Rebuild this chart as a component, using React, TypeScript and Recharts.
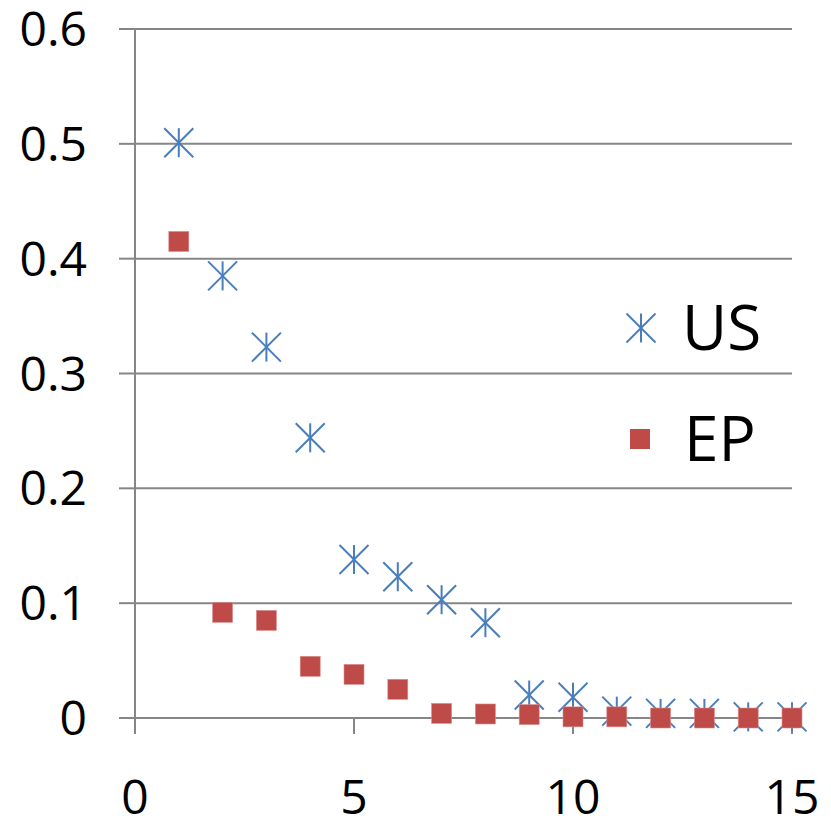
import React from 'react';
import { ScatterChart, Scatter, XAxis, YAxis, CartesianGrid, Legend } from 'recharts';

const xValues = [1, 2, 3, 4, 5, 6, 7, 8, 9, 10, 11, 12, 13, 14, 15];
const usValues = [0.501, 0.385, 0.323, 0.244, 0.138, 0.123, 0.103, 0.083, 0.02, 0.018, 0.006, 0.004, 0.004, 0.001, 0.001];
const epValues = [0.415, 0.092, 0.085, 0.045, 0.038, 0.025, 0.004, 0.0035, 0.003, 0.001, 0.001, 0, 0, 0, 0];
const xTicks = [0, 5, 10, 15];
const yTicks = [0, 0.1, 0.2, 0.3, 0.4, 0.5, 0.6];
const seriesNames = ['US', 'EP'];

const usData = xValues.map((x, i) => ({ x, y: usValues[i] }));
const epData = xValues.map((x, i) => ({ x, y: epValues[i] }));

const BLUE = '#4a7ebb';
const RED = '#be4b48';
const GRID = '#868686';
const FONT = '"Open Sans", sans-serif';

const Star = (props: any) => {
  const { cx, cy } = props;
  if (cx == null || cy == null) return null;
  const r = 14.5;
  return (
    <g stroke={BLUE} strokeWidth={2} fill="none">
      <line x1={cx} y1={cy - r} x2={cx} y2={cy + r} />
      <line x1={cx - r} y1={cy - r} x2={cx + r} y2={cy + r} />
      <line x1={cx - r} y1={cy + r} x2={cx + r} y2={cy - r} />
    </g>
  );
};

const Square = (props: any) => {
  const { cx, cy } = props;
  if (cx == null || cy == null) return null;
  const s = 20;
  return <rect x={cx - s / 2} y={cy - s / 2} width={s} height={s} fill={RED} stroke="#d98e8c" strokeWidth={0.6} />;
};

const LegendContent = () => (
  <svg width={220} height={220} style={{ overflow: 'visible', display: 'block' }}>
    <g stroke={BLUE} strokeWidth={2}>
      <line x1={33} y1={60 - 14.5} x2={33} y2={60 + 14.5} />
      <line x1={33 - 14.5} y1={60 - 14.5} x2={33 + 14.5} y2={60 + 14.5} />
      <line x1={33 - 14.5} y1={60 + 14.5} x2={33 + 14.5} y2={60 - 14.5} />
    </g>
    <text x={74} y={82} fontSize={62} fontFamily={FONT} fill="#000">{seriesNames[0]}</text>
    <rect x={32 - 10} y={171 - 10} width={20} height={20} fill={RED} />
    <text x={76} y={193} fontSize={62} fontFamily={FONT} fill="#000">{seriesNames[1]}</text>
  </svg>
);

export default function App() {
  return (
    <ScatterChart width={823} height={816} margin={{ top: 21, right: 39, bottom: 0, left: 0 }}>
      <CartesianGrid vertical={false} stroke={GRID} strokeWidth={2} />
      <XAxis
        type="number"
        dataKey="x"
        domain={[0, 15]}
        ticks={xTicks}
        interval={0}
        height={106}
        tickSize={16}
        tickMargin={46}
        axisLine={{ stroke: GRID, strokeWidth: 2 }}
        tickLine={{ stroke: GRID, strokeWidth: 2 }}
        tick={{ fontSize: 48, fontFamily: FONT, fill: '#000' }}
      />
      <YAxis
        type="number"
        dataKey="y"
        domain={[0, 0.6]}
        ticks={yTicks}
        interval={0}
        width={127}
        tickSize={16}
        tickMargin={32}
        axisLine={{ stroke: GRID, strokeWidth: 2 }}
        tickLine={{ stroke: GRID, strokeWidth: 2 }}
        tick={{ fontSize: 48, fontFamily: FONT, fill: '#000' }}
        tickFormatter={(v: number) => String(Math.round(v * 10) / 10)}
      />
      <Legend
        content={<LegendContent />}
        wrapperStyle={{ left: 600, top: 260, width: 0, height: 0, overflow: 'visible' }}
      />
      <Scatter name={seriesNames[0]} data={usData} shape={<Star />} isAnimationActive={false} />
      <Scatter name={seriesNames[1]} data={epData} shape={<Square />} isAnimationActive={false} />
    </ScatterChart>
  );
}
